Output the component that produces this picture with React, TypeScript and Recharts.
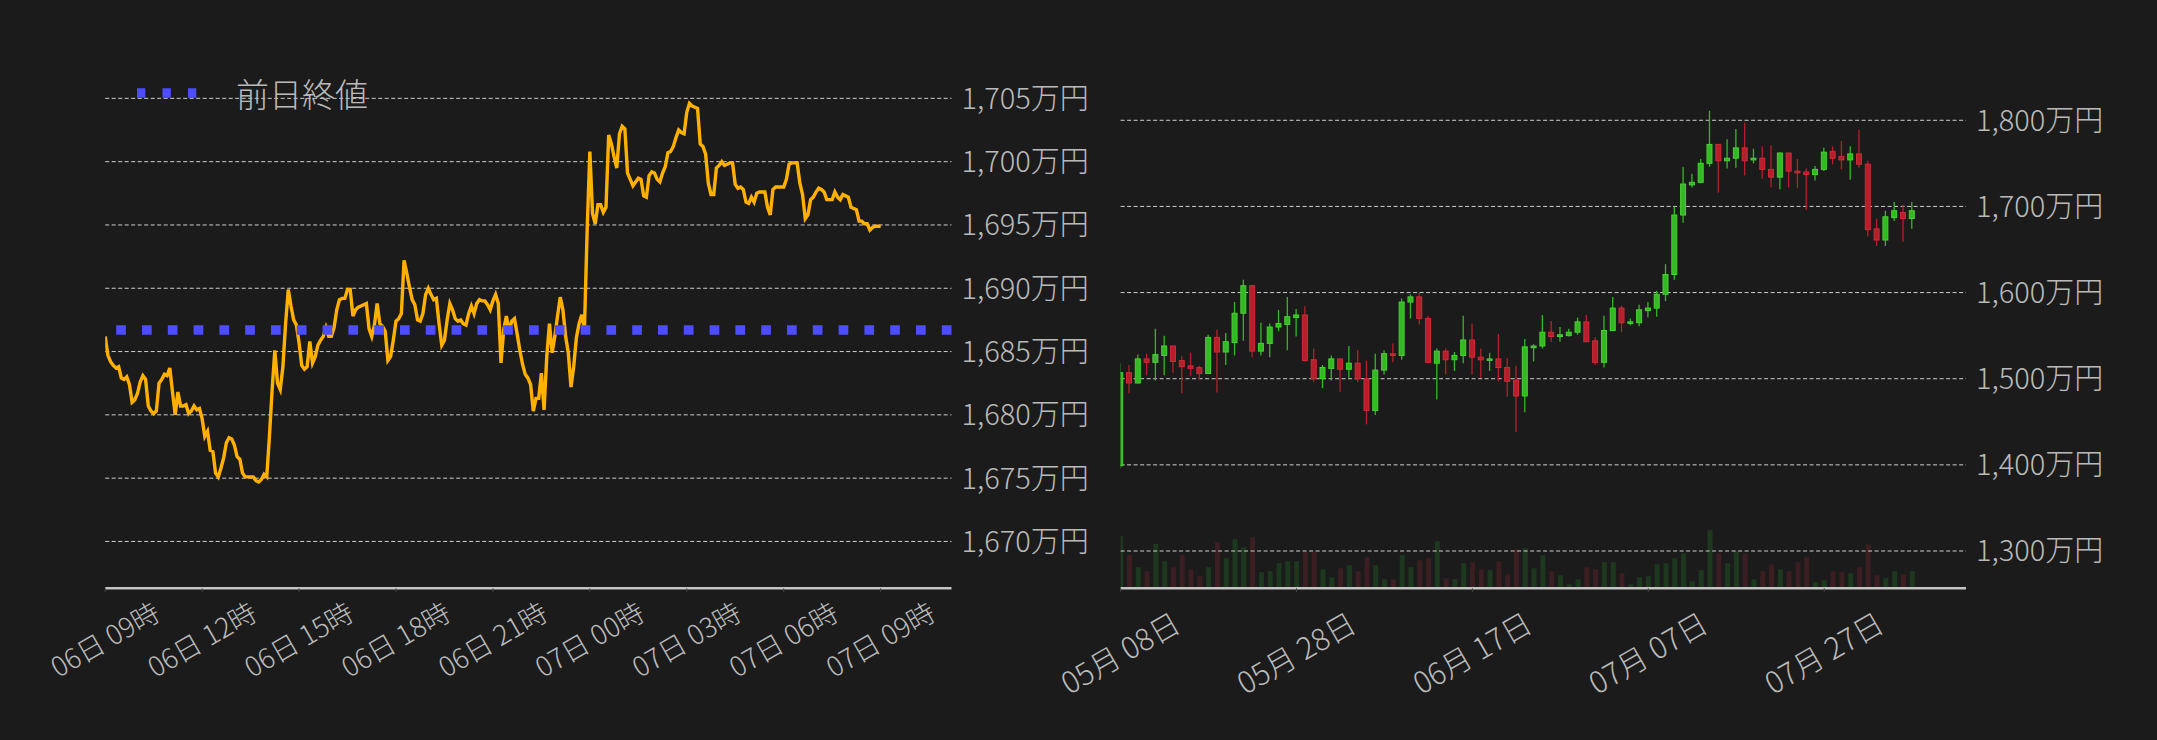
import React from "react";
import {
  LineChart,
  ComposedChart,
  Line,
  Bar,
  Cell,
  XAxis,
  YAxis,
  CartesianGrid,
  ReferenceLine,
} from "recharts";

// colours
const BG = "#1b1b1b";
const LINE = "#ffb000";
const PREV = "#4d4dff";
const GRID = "#cfcfcf";
const TICK_TEXT = "#bababa";
const AXIS = "#c4c4c4";
const UP = "#34b824";
const UP_EDGE = "#46d232";
const DOWN = "#b51f2b";
const DOWN_EDGE = "#d02a38";
const VOL_UP = "#1e381f";
const VOL_DOWN = "#3a1e22";
const FONT = "'Noto Sans CJK JP', 'Noto Sans', sans-serif";

// ---- left panel: 24h price, 5 minute steps from 06日 09時 (万円)
const PRICE = [
  1686.2, 1684.7, 1684.2, 1683.9, 1683.7, 1683.8, 1682.9, 1682.8, 1683.0, 1682.4,
  1681.0, 1681.2, 1681.7, 1682.6, 1683.1, 1682.8, 1680.7, 1680.3, 1680.1, 1680.3,
  1682.5, 1682.8, 1683.2, 1683.1, 1683.7, 1681.8, 1680.0, 1681.8, 1680.7, 1680.7,
  1680.8, 1680.1, 1680.3, 1680.7, 1680.4, 1680.5, 1679.7, 1678.3, 1678.7, 1677.2,
  1677.1, 1675.4, 1675.1, 1675.8, 1676.6, 1677.8, 1678.2, 1678.1, 1677.6, 1676.7,
  1676.5, 1675.4, 1675.1, 1675.1, 1675.1, 1675.1, 1674.8, 1674.7, 1674.9, 1675.3,
  1675.1, 1678.3, 1682.0, 1685.1, 1682.5, 1682.0, 1683.8, 1687.2, 1689.9, 1688.6,
  1687.5, 1687.1, 1685.7, 1683.9, 1683.6, 1683.8, 1685.8, 1684.1, 1684.6, 1685.5,
  1685.9, 1686.2, 1686.9, 1686.2, 1686.2, 1686.9, 1688.3, 1689.1, 1689.2, 1689.2,
  1689.9, 1689.9, 1687.8, 1688.3, 1688.5, 1688.6, 1688.7, 1688.8, 1686.8, 1686.2,
  1687.1, 1688.8, 1687.2, 1687.0, 1686.6, 1684.3, 1684.6, 1685.9, 1687.4, 1687.6,
  1688.0, 1692.2, 1691.2, 1690.1, 1689.1, 1688.7, 1687.5, 1687.4, 1688.0, 1689.5,
  1690.0, 1689.5, 1689.1, 1689.2, 1687.2, 1685.5, 1685.9, 1687.5, 1688.8, 1688.3,
  1687.6, 1687.4, 1687.5, 1687.2, 1687.1, 1688.0, 1688.6, 1688.0, 1688.8, 1689.1,
  1689.0, 1689.0, 1688.7, 1688.3, 1689.0, 1689.5, 1688.8, 1684.1, 1686.7, 1687.8,
  1686.6, 1687.4, 1687.6, 1686.4, 1685.1, 1684.0, 1683.2, 1682.9, 1682.4, 1680.3,
  1681.3, 1681.3, 1683.3, 1680.4, 1684.6, 1687.2, 1684.9, 1686.2, 1687.8, 1689.3,
  1688.3, 1686.2, 1684.9, 1682.2, 1683.8, 1686.1, 1687.2, 1687.9, 1686.8, 1694.6,
  1700.8, 1695.9, 1695.1, 1696.6, 1696.6, 1696.0, 1696.4, 1702.1, 1701.4, 1700.4,
  1699.5, 1702.2, 1702.8, 1702.6, 1699.1, 1698.6, 1698.1, 1698.4, 1698.7, 1698.6,
  1697.3, 1697.2, 1698.9, 1699.2, 1699.1, 1698.6, 1698.4, 1699.1, 1699.6, 1700.7,
  1700.8, 1701.2, 1701.9, 1702.5, 1702.3, 1702.2, 1703.9, 1704.6, 1704.4, 1704.3,
  1704.2, 1701.4, 1701.2, 1700.6, 1698.3, 1697.4, 1697.4, 1699.5, 1699.7, 1700.0,
  1699.7, 1699.8, 1699.9, 1699.9, 1698.2, 1697.9, 1698.0, 1697.8, 1696.8, 1696.7,
  1697.2, 1696.8, 1697.5, 1697.6, 1697.6, 1697.6, 1696.4, 1695.8, 1697.8, 1698.0,
  1698.0, 1698.0, 1698.0, 1698.6, 1699.8, 1699.9, 1699.9, 1699.9, 1698.3, 1697.4,
  1695.5, 1695.8, 1697.0, 1697.2, 1697.6, 1697.9, 1697.8, 1697.6, 1697.0, 1697.0,
  1697.0, 1697.6, 1697.2, 1697.0, 1697.4, 1697.3, 1697.2, 1696.4, 1696.3, 1696.2,
  1695.3, 1695.3, 1695.1, 1695.1, 1694.6, 1694.8, 1694.9, 1694.9, 1694.9,
];
const PREV_CLOSE = 1686.7;
const LEFT_Y_TICKS = [1670, 1675, 1680, 1685, 1690, 1695, 1700, 1705];
const LEFT_X_TICKS = [0, 180, 360, 540, 720, 900, 1080, 1260, 1440];
const LEFT_X_LABELS = [
  "06日 09時", "06日 12時", "06日 15時", "06日 18時", "06日 21時",
  "07日 00時", "07日 03時", "07日 06時", "07日 09時",
];

// ---- right panel: daily candles from 05月 08日 (万円)
const OPEN = [
  1399, 1507, 1495, 1523, 1519, 1527, 1538, 1521, 1515, 1513,
  1506, 1548, 1531, 1542, 1576, 1608, 1532, 1541, 1560, 1563,
  1571, 1574, 1522, 1500, 1512, 1523, 1511, 1518, 1500, 1463,
  1510, 1529, 1527, 1589, 1595, 1570, 1518, 1532, 1522, 1527,
  1545, 1525, 1522, 1523, 1513, 1498, 1480, 1536, 1538, 1554,
  1549, 1550, 1554, 1566, 1544, 1519, 1556, 1582, 1565, 1565,
  1579, 1582, 1598, 1621, 1690, 1725, 1728, 1750, 1772, 1753,
  1756, 1768, 1754, 1756, 1743, 1734, 1762, 1741, 1740, 1737,
  1743, 1764, 1758, 1754, 1761, 1749, 1674, 1661, 1687, 1693,
  1686,
];
const HIGH = [
  1518, 1516, 1528, 1529, 1558, 1550, 1538, 1526, 1530, 1515,
  1551, 1557, 1553, 1589, 1615, 1609, 1565, 1564, 1580, 1595,
  1581, 1584, 1535, 1516, 1527, 1523, 1538, 1533, 1521, 1529,
  1533, 1541, 1593, 1598, 1600, 1573, 1535, 1535, 1531, 1573,
  1564, 1535, 1530, 1552, 1524, 1515, 1546, 1540, 1574, 1567,
  1560, 1558, 1571, 1574, 1548, 1573, 1595, 1585, 1570, 1586,
  1589, 1602, 1633, 1700, 1746, 1738, 1755, 1811, 1772, 1778,
  1790, 1797, 1767, 1770, 1771, 1763, 1762, 1755, 1744, 1747,
  1768, 1770, 1776, 1770, 1789, 1753, 1686, 1695, 1705, 1702,
  1705,
];
const LOW = [
  1396, 1483, 1495, 1504, 1498, 1504, 1507, 1483, 1503, 1499,
  1506, 1484, 1516, 1527, 1544, 1525, 1527, 1525, 1555, 1533,
  1549, 1520, 1496, 1489, 1498, 1485, 1501, 1496, 1447, 1458,
  1505, 1519, 1522, 1570, 1563, 1518, 1476, 1505, 1509, 1518,
  1505, 1501, 1509, 1497, 1479, 1438, 1461, 1520, 1535, 1543,
  1543, 1549, 1551, 1543, 1516, 1513, 1556, 1554, 1562, 1561,
  1571, 1572, 1590, 1615, 1681, 1722, 1727, 1746, 1716, 1744,
  1745, 1736, 1750, 1732, 1722, 1720, 1722, 1721, 1696, 1730,
  1741, 1749, 1743, 1731, 1745, 1665, 1654, 1654, 1683, 1659,
  1674,
];
const CLOSE = [
  1507, 1495, 1523, 1519, 1528, 1538, 1520, 1514, 1512, 1506,
  1548, 1531, 1543, 1576, 1608, 1532, 1541, 1560, 1564, 1572,
  1574, 1521, 1500, 1513, 1523, 1511, 1518, 1500, 1463, 1510,
  1529, 1527, 1589, 1595, 1570, 1519, 1532, 1522, 1527, 1545,
  1525, 1522, 1523, 1513, 1497, 1480, 1537, 1538, 1554, 1549,
  1551, 1554, 1566, 1543, 1519, 1556, 1582, 1565, 1566, 1580,
  1582, 1598, 1621, 1690, 1726, 1728, 1750, 1772, 1753, 1756,
  1768, 1753, 1756, 1743, 1734, 1762, 1741, 1739, 1737, 1743,
  1763, 1756, 1754, 1761, 1749, 1673, 1661, 1688, 1695, 1686,
  1695,
];
// relative volume (no scale shown on the chart)
const VOLUME = [
  156, 101, 63, 51, 133, 81, 63, 101, 57, 36,
  63, 138, 90, 147, 123, 153, 48, 51, 75, 81,
  81, 109, 109, 57, 33, 60, 69, 51, 93, 69,
  27, 27, 99, 63, 84, 90, 141, 30, 27, 75,
  78, 57, 54, 81, 42, 117, 120, 60, 99, 51,
  39, 12, 27, 63, 57, 78, 78, 45, 12, 33,
  36, 72, 75, 90, 105, 21, 54, 174, 105, 75,
  111, 105, 27, 51, 72, 57, 51, 78, 93, 18,
  24, 51, 48, 45, 63, 132, 39, 30, 51, 42,
  51,
];
const RIGHT_Y_TICKS = [1300, 1400, 1500, 1600, 1700, 1800];
const RIGHT_X_TICKS = [0, 20, 40, 60, 80];
const RIGHT_X_LABELS = ["05月 08日", "05月 28日", "06月 17日", "07月 07日", "07月 27日"];

const lineData = PRICE.map((v, i) => ({ t: i * 5, price: v }));
const candleData = OPEN.map((o, i) => ({
  day: i,
  open: o,
  high: HIGH[i],
  low: LOW[i],
  close: CLOSE[i],
  range: [LOW[i], HIGH[i]],
  vol: VOLUME[i],
}));

function yen(v: number) {
  const s = String(v);
  return s.slice(0, s.length - 3) + "," + s.slice(-3) + "万円";
}

function YTick(props: any) {
  const { x, y, payload } = props;
  return (
    <text x={x} y={y} dy="0.36em" textAnchor="start" fill={TICK_TEXT} fontSize={29} fontWeight={300} fontFamily={FONT}>
      {yen(payload.value)}
    </text>
  );
}

function makeXTick(ticks: number[], labels: string[], size: number, drop: number) {
  return (props: any) => {
    const { x, y, payload } = props;
    const label = labels[ticks.indexOf(payload.value)] ?? "";
    const cy = y + drop;
    return (
      <text
        x={x}
        y={cy}
        dy="0.36em"
        textAnchor="middle"
        fill={TICK_TEXT}
        fontSize={size}
        fontWeight={300}
        fontFamily={FONT}
        transform={`rotate(-30 ${x} ${cy})`}
      >
        {label}
      </text>
    );
  };
}

function Candle(props: any) {
  const { x, y, width, height, payload } = props;
  if (!payload || height == null) return null;
  const { open, close, high, low } = payload;
  const k = height / (high - low);
  const up = close >= open;
  const top = y + (high - Math.max(open, close)) * k;
  const bot = y + (high - Math.min(open, close)) * k;
  const cx = x + width / 2;
  return (
    <g>
      <line x1={cx} x2={cx} y1={y} y2={y + height} stroke={up ? UP : DOWN} strokeWidth={1.3} />
      <rect
        x={x + 0.5}
        y={top}
        width={width - 1}
        height={Math.max(bot - top, 1.5)}
        fill={up ? UP : DOWN}
        stroke={up ? UP_EDGE : DOWN_EDGE}
        strokeWidth={1}
      />
    </g>
  );
}

function PriceLine() {
  return (
    <LineChart width={1100} height={740} data={lineData} margin={{ top: 80, right: 0, bottom: 0, left: 105.2 }}>
      <CartesianGrid vertical={false} syncWithTicks stroke={GRID} strokeDasharray="4 2.5" />
      <XAxis
        dataKey="t"
        type="number"
        domain={[0, 1571.6]}
        ticks={LEFT_X_TICKS}
        allowDataOverflow
        height={151.7}
        axisLine={{ stroke: AXIS, strokeWidth: 2.5 }}
        tickLine={{ stroke: "#444" }}
        tickSize={4}
        tick={makeXTick(LEFT_X_TICKS, LEFT_X_LABELS, 27.5, 45.5)}
        interval={0}
      />
      <YAxis
        orientation="right"
        type="number"
        domain={[1666.3, 1706.45]}
        ticks={LEFT_Y_TICKS}
        allowDataOverflow
        width={148.5}
        axisLine={false}
        tickLine={false}
        tickSize={0}
        tickMargin={10}
        tick={<YTick />}
        interval={0}
      />
      <Line
        type="linear"
        dataKey="price"
        stroke={LINE}
        strokeWidth={3.4}
        dot={false}
        activeDot={false}
        isAnimationActive={false}
      />
      <ReferenceLine y={PREV_CLOSE} stroke={PREV} strokeWidth={9.5} strokeDasharray="9.7 16.1" />
    </LineChart>
  );
}

// volume sits in its own chart with the same plot box, drawn under the candles
function VolumeChart() {
  return (
    <ComposedChart width={1157} height={740} data={candleData} margin={{ top: 100, right: 191, bottom: 151.7, left: 120.6 }}>
      <XAxis dataKey="day" type="number" domain={[0, 96.12]} allowDataOverflow hide />
      <YAxis type="number" domain={[0, 1465]} allowDataOverflow hide />
      <Bar dataKey="vol" barSize={5} isAnimationActive={false}>
        {candleData.map((d) => (
          <Cell key={d.day} fill={d.close >= d.open ? VOL_UP : VOL_DOWN} />
        ))}
      </Bar>
    </ComposedChart>
  );
}

function CandleChart() {
  return (
    <ComposedChart width={1157} height={740} data={candleData} margin={{ top: 100, right: 0, bottom: 0, left: 120.6 }}>
      <CartesianGrid vertical={false} syncWithTicks stroke={GRID} strokeDasharray="4 2.5" />
      <XAxis
        dataKey="day"
        type="number"
        domain={[0, 96.12]}
        ticks={RIGHT_X_TICKS}
        allowDataOverflow
        height={151.7}
        axisLine={{ stroke: AXIS, strokeWidth: 2.5 }}
        tickLine={{ stroke: "#444" }}
        tickSize={4}
        tick={makeXTick(RIGHT_X_TICKS, RIGHT_X_LABELS, 30, 59)}
        interval={0}
      />
      <YAxis
        orientation="right"
        type="number"
        domain={[1256.7, 1823.55]}
        ticks={RIGHT_Y_TICKS}
        allowDataOverflow
        width={191}
        axisLine={false}
        tickLine={false}
        tickSize={0}
        tickMargin={10}
        tick={<YTick />}
        interval={0}
      />
      <Bar dataKey="range" barSize={6} shape={<Candle />} isAnimationActive={false} />
    </ComposedChart>
  );
}

export default function App() {
  return (
    <div style={{ position: "absolute", left: 0, top: 0, width: 2157, height: 740, background: BG, overflow: "hidden" }}>
      <div style={{ position: "absolute", left: 0, top: 0 }}>
        <PriceLine />
      </div>
      <div style={{ position: "absolute", left: 1000, top: 0 }}>
        <VolumeChart />
      </div>
      <div style={{ position: "absolute", left: 1000, top: 0 }}>
        <CandleChart />
      </div>
      <div
        style={{
          position: "absolute",
          left: 137,
          top: 74,
          display: "flex",
          alignItems: "center",
          fontFamily: FONT,
          fontSize: 33,
          fontWeight: 300,
          color: TICK_TEXT,
          lineHeight: "38px",
        }}
      >
        <svg width={62} height={12} style={{ marginRight: 37 }}>
          <line x1={0} x2={62} y1={6} y2={6} stroke={PREV} strokeWidth={9.5} strokeDasharray="8.3 17.2" />
        </svg>
        <span>前日終値</span>
      </div>
    </div>
  );
}
